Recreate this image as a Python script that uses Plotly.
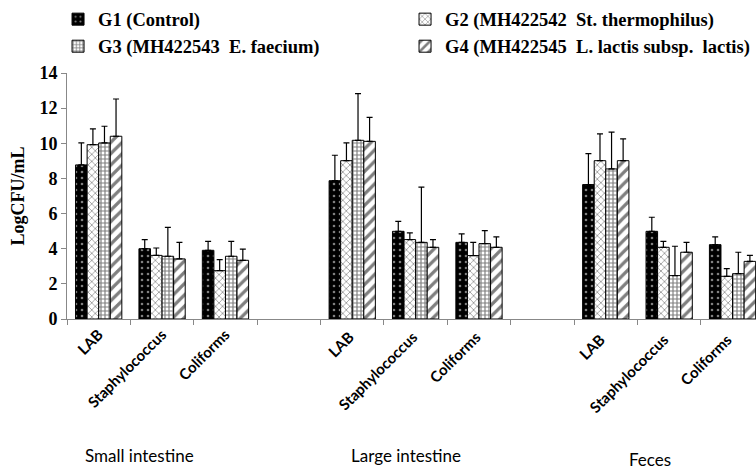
import plotly.graph_objects as go

sites = ["Small intestine", "Large intestine", "Feces"]
bacteria = ["LAB", "Staphylococcus", "Coliforms"]
group_names = ["G1 (Control)", "G2 (MH422542 \u00a0St. thermophilus)",
               "G3 (MH422543 \u00a0E. faecium)", "G4 (MH422545 \u00a0L. lactis subsp. \u00a0lactis)"]

# values ordered: Small intestine (LAB, Staph, Coli), Large intestine (...), Feces (...)
g1_mean = [8.77, 4.00, 3.91, 7.87, 4.99, 4.36, 7.65, 4.99, 4.23]
g2_mean = [9.92, 3.62, 2.75, 9.01, 4.52, 3.61, 9.01, 4.08, 2.43]
g3_mean = [10.02, 3.57, 3.57, 10.17, 4.36, 4.29, 8.54, 2.47, 2.58]
g4_mean = [10.40, 3.42, 3.34, 10.11, 4.08, 4.08, 9.01, 3.80, 3.28]

g1_err = [1.25, 0.52, 0.51, 1.45, 0.57, 0.48, 1.76, 0.80, 0.44]
g2_err = [0.90, 0.42, 0.63, 1.01, 0.38, 0.75, 1.52, 0.34, 0.44]
g3_err = [0.95, 1.65, 0.85, 2.66, 3.14, 0.74, 2.09, 1.67, 1.22]
g4_err = [2.12, 0.94, 0.64, 1.37, 0.44, 0.59, 1.24, 0.56, 0.34]

# unique category keys (trailing spaces keep repeated labels distinct), with blank gap slots
cat_keys = []
data_keys = []
for i, s in enumerate(sites):
    for b in bacteria:
        k = b + " " * i
        cat_keys.append(k)
        data_keys.append(k)
    if i < len(sites) - 1:
        cat_keys.append(" " * (20 + i))

means = [g1_mean, g2_mean, g3_mean, g4_mean]
errs = [g1_err, g2_err, g3_err, g4_err]
patterns = [
    dict(shape=".", fgcolor="white", bgcolor="black", size=6, solidity=0.15),
    dict(shape="x", fgcolor="black", bgcolor="white", size=5, solidity=0.25),
    dict(shape="+", fgcolor="black", bgcolor="white", size=4, solidity=0.5),
    dict(shape="/", fgcolor="black", bgcolor="white", size=8, solidity=0.4),
]
base_colors = ["black", "white", "white", "white"]

fig = go.Figure()
for name, m, e, p, c in zip(group_names, means, errs, patterns, base_colors):
    fig.add_trace(go.Bar(
        x=data_keys, y=m, name=name,
        marker=dict(color=c, pattern=p, line=dict(color="black", width=1)),
        error_y=dict(type="data", array=e, arrayminus=[0] * len(e), symmetric=False,
                     color="black", thickness=1.2, width=3),
    ))

sans = "Lato"
serif = "Liberation Serif"

fig.update_layout(
    width=756, height=469,
    margin=dict(l=67, r=0, t=73, b=150),
    plot_bgcolor="white", paper_bgcolor="white",
    barmode="group", bargap=0.27, bargroupgap=0,
    showlegend=True,
    legend=dict(orientation="h", x=-0.013, y=1.03, xanchor="left", yanchor="bottom",
                entrywidth=302, entrywidthmode="pixels", traceorder="normal",
                font=dict(family=serif, size=18.5, color="black", weight="bold"), itemwidth=30,
                bgcolor="rgba(0,0,0,0)"),
    xaxis=dict(type="category", categoryorder="array", categoryarray=cat_keys,
               range=[-0.5, 10.37], tickson="boundaries", ticks="outside", ticklen=5,
               tickcolor="#888", showline=True, linecolor="#888", linewidth=1,
               tickangle=-45, tickfont=dict(family=sans, size=15, color="black", weight="bold"),
               showgrid=False, zeroline=False),
    yaxis=dict(range=[0, 14], dtick=2, ticks="outside", ticklen=5, tickcolor="#888",
               showline=True, linecolor="#888", linewidth=1, showgrid=False, zeroline=False,
               tickfont=dict(family=serif, size=18, color="black", weight="bold"),
               title=dict(text="LogCFU/mL", standoff=10,
                          font=dict(family=serif, size=18, color="black", weight="bold"))),
)

site_x = [0.65, 4.85, 8.7]
site_px_y = [455, 455, 459]
for s, xv, py in zip(sites, site_x, site_px_y):
    fig.add_annotation(text=s, x=xv, xref="x", y=(319 - py) / 246, yref="paper",
                       showarrow=False, xanchor="center", yanchor="middle",
                       font=dict(family=sans, size=17, color="black"))

fig.write_html("out.html")
